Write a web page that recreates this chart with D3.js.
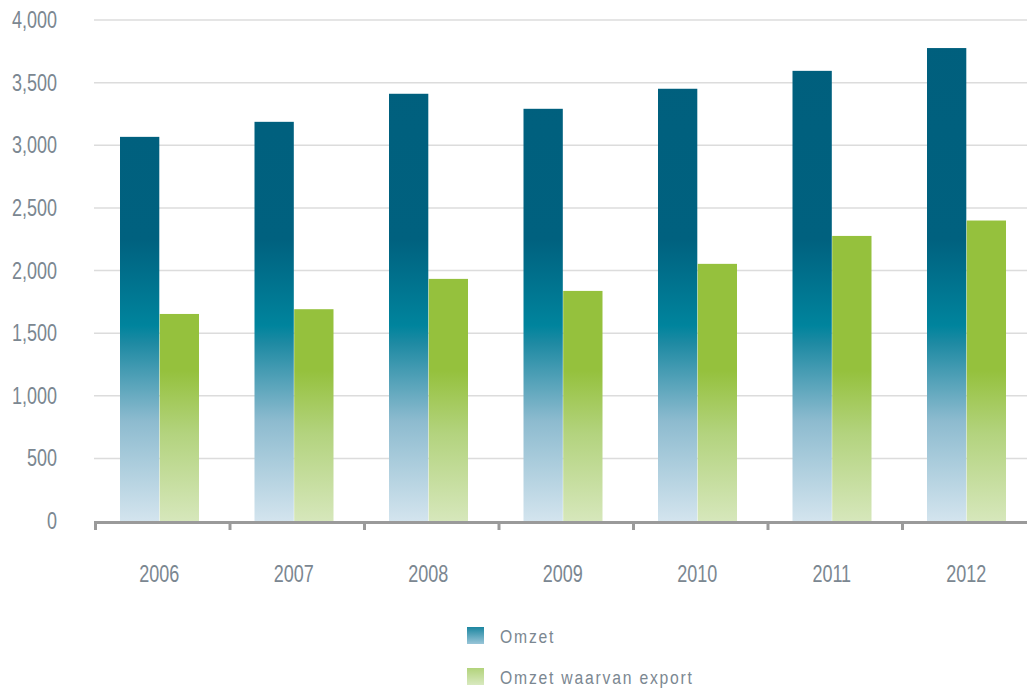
<!DOCTYPE html>
<html>
<head>
<meta charset="utf-8">
<script src="https://cdn.jsdelivr.net/npm/d3@7"></script>
<style>
  body { margin: 0; background: #fff; }
  svg text { font-family: "Liberation Sans", Arial, sans-serif; fill: #7b8791; }
</style>
</head>
<body>
<div id="chart"></div>
<script>
// Data
const years = ['2006', '2007', '2008', '2009', '2010', '2011', '2012'];
const omzet = [3067, 3187, 3411, 3291, 3451, 3594, 3776];
const omzetExport = [1653, 1691, 1933, 1837, 2053, 2276, 2399];
const yTicks = [0, 500, 1000, 1500, 2000, 2500, 3000, 3500, 4000];
const seriesNames = ['Omzet', 'Omzet waarvan export'];

const width = 1027;
const height = 689;
const margin = { top: 20, left: 94, bottom: 168 };
const narrow = 0.75; // condensed look for the labels

const svg = d3.select('#chart')
    .append('svg')
    .attr('width', width)
    .attr('height', height);

// Scales
const y = d3.scaleLinear()
    .domain([0, 4000])
    .range([height - margin.bottom, margin.top]);

const step = 134.5;
const x0 = d3.scaleBand()
    .domain(years)
    .range([margin.left, margin.left + step * years.length])
    .padding(0);

const x1 = d3.scaleBand()
    .domain(seriesNames)
    .range([26, 105])
    .paddingInner(0.01);

// Gradients, fixed to the plot so colour depends on height
const defs = svg.append('defs');

function plotGradient(id, stops) {
    const g = defs.append('linearGradient')
        .attr('id', id)
        .attr('gradientUnits', 'userSpaceOnUse')
        .attr('x1', 0).attr('x2', 0)
        .attr('y1', y(4000)).attr('y2', y(0));
    stops.forEach(s => {
        g.append('stop')
            .attr('offset', 1 - s[0] / 4000)
            .attr('stop-color', s[1]);
    });
}

plotGradient('gradBlue', [
    [4000, '#005f7d'],
    [2250, '#00617f'],
    [1560, '#00849d'],
    [1420, '#1e8aa3'],
    [800, '#8dbbcf'],
    [0, '#d3e4ee']
]);
plotGradient('gradGreen', [
    [4000, '#95c13d'],
    [1200, '#95c13d'],
    [700, '#b3d37e'],
    [0, '#d6e7bb']
]);

function boxGradient(id, top, bottom) {
    const g = defs.append('linearGradient')
        .attr('id', id)
        .attr('x1', 0).attr('x2', 0)
        .attr('y1', 0).attr('y2', 1);
    g.append('stop').attr('offset', 0).attr('stop-color', top);
    g.append('stop').attr('offset', 1).attr('stop-color', bottom);
}
boxGradient('legBlue', '#1c86a0', '#99c5d8');
boxGradient('legGreen', '#b2d37b', '#d8e9bf');

// Gridlines
svg.append('g')
    .selectAll('line')
    .data(yTicks.filter(d => d > 0))
    .enter()
    .append('line')
    .attr('x1', margin.left)
    .attr('x2', width)
    .attr('y1', d => y(d))
    .attr('y2', d => y(d))
    .attr('stroke', '#dcdcdc')
    .attr('stroke-width', 1.5);

// Y labels
svg.append('g')
    .selectAll('text')
    .data(yTicks)
    .enter()
    .append('text')
    .attr('transform', d => `translate(57,${y(d) + 8}) scale(${narrow},1)`)
    .attr('text-anchor', 'end')
    .style('font-size', '24px')
    .text(d => d3.format(',')(d));

// Bars
const groups = svg.append('g')
    .selectAll('g')
    .data(years)
    .enter()
    .append('g')
    .attr('transform', d => `translate(${x0(d)},0)`);

groups.append('rect')
    .attr('x', x1('Omzet'))
    .attr('width', x1.bandwidth())
    .attr('y', (d, i) => y(omzet[i]))
    .attr('height', (d, i) => y(0) - y(omzet[i]))
    .attr('fill', 'url(#gradBlue)');

groups.append('rect')
    .attr('x', x1('Omzet waarvan export'))
    .attr('width', x1.bandwidth())
    .attr('y', (d, i) => y(omzetExport[i]))
    .attr('height', (d, i) => y(0) - y(omzetExport[i]))
    .attr('fill', 'url(#gradGreen)');

// X axis
const axis = svg.append('g');
axis.append('line')
    .attr('x1', margin.left)
    .attr('x2', width)
    .attr('y1', y(0) + 1.5)
    .attr('y2', y(0) + 1.5)
    .attr('stroke', '#9a9a9a')
    .attr('stroke-width', 3);

axis.selectAll('.tick')
    .data(years)
    .enter()
    .append('line')
    .attr('class', 'tick')
    .attr('x1', d => x0(d) + 1.5)
    .attr('x2', d => x0(d) + 1.5)
    .attr('y1', y(0))
    .attr('y2', y(0) + 9)
    .attr('stroke', '#9a9a9a')
    .attr('stroke-width', 3);

axis.selectAll('.year')
    .data(years)
    .enter()
    .append('text')
    .attr('class', 'year')
    .attr('transform', d => `translate(${x0(d) + x0.bandwidth() / 2 - 2},582) scale(${narrow},1)`)
    .attr('text-anchor', 'middle')
    .style('font-size', '24px')
    .text(d => d);

// Legend
const legend = svg.append('g')
    .selectAll('g')
    .data(seriesNames)
    .enter()
    .append('g')
    .attr('transform', (d, i) => `translate(467, ${627 + i * 41})`);

legend.append('rect')
    .attr('width', 17)
    .attr('height', 17)
    .attr('fill', (d, i) => i === 0 ? 'url(#legBlue)' : 'url(#legGreen)');

legend.append('text')
    .attr('transform', 'translate(33,16) scale(0.85,1)')
    .style('font-size', '18.5px')
    .style('letter-spacing', '2.1px')
    .text(d => d);
</script>
</body>
</html>
